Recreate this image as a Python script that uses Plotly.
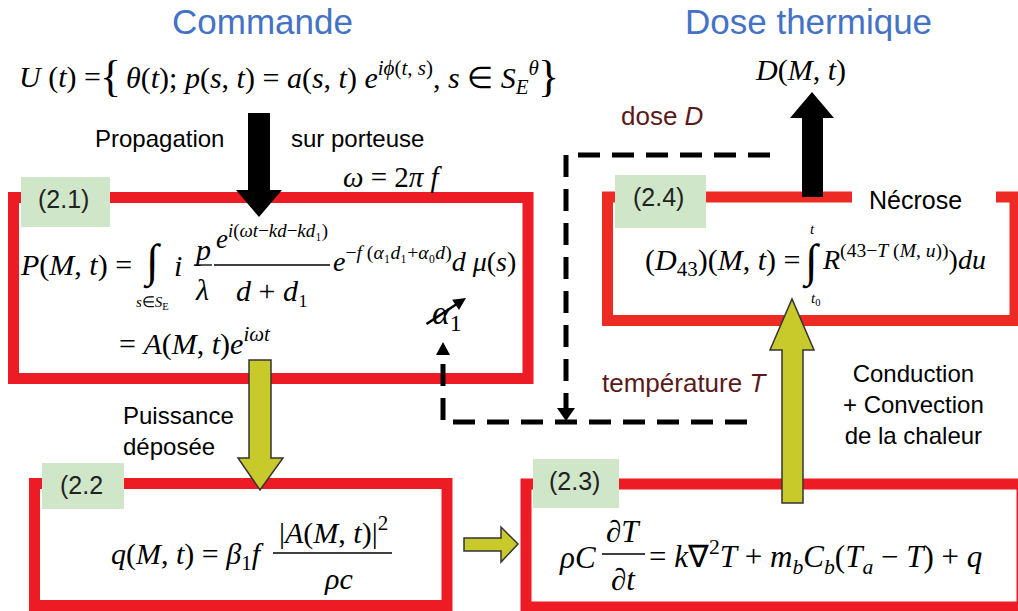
import plotly.graph_objects as go

W, H = 1018, 611
RED = "#ED1C24"
GREEN = "#CFE6C8"
OLIVE = "#C8CA2C"
BLUE = "#4472C4"
BROWN = "#5B1A1A"
SANS = "Liberation Sans"
SERIF = "Liberation Serif"

# content
titles = ["Commande", "Dose thermique"]
box_labels = ["(2.1)", "(2.2", "(2.3)", "(2.4)"]
flow_texts = ["Propagation", "sur porteuse", "Puissance<br>déposée",
              "Conduction<br>+ Convection<br>de la chaleur", "Nécrose"]
feedback_texts = ["dose <i>D</i>", "température <i>T</i>"]

fig = go.Figure()
shapes = []
ann = []


def txt(x, y, s, size=26, color="#000", family=SERIF, xanchor="center", align="center"):
    ann.append(dict(x=x, y=y, text=s, showarrow=False, xanchor=xanchor, yanchor="middle",
                    align=align, font=dict(size=size, color=color, family=family)))


def hline(x0, x1, y, w=1.3):
    shapes.append(dict(type="line", x0=x0, x1=x1, y0=y, y1=y, line=dict(color="#000", width=w)))


def poly(pts, fill, line="#000", lw=0):
    p = "M " + " L ".join(f"{a},{b}" for a, b in pts) + " Z"
    shapes.append(dict(type="path", path=p, fillcolor=fill,
                       line=dict(color=line, width=lw)))


# red boxes
for (x0, y0, x1, y1) in [(13.5, 197.5, 528, 378.5), (34.5, 483.5, 447, 605.5), (526, 484, 1022, 607)]:
    shapes.append(dict(type="rect", x0=x0, y0=y0, x1=x1, y1=y1,
                       line=dict(color=RED, width=11), fillcolor="rgba(0,0,0,0)"))
shapes.append(dict(type="path", path="M 852,197 L 607.5,197 L 607.5,320.5 L 1015,320.5 L 1015,197 L 996,197",
                   line=dict(color="#EE2A24", width=11)))

# green labels
for (x0, y0, x1, y1), lab in zip([(21, 177, 110, 227), (42, 463, 124, 509), (533, 459, 619, 508), (615, 175, 706, 228)], box_labels):
    shapes.append(dict(type="rect", x0=x0, y0=y0, x1=x1, y1=y1, line=dict(width=0), fillcolor=GREEN))
    txt((x0 + x1) / 2 - 2, y0 + 22, lab, size=25, color="#222", family=SANS)

# dashed feedback lines
dash = dict(color="#000", width=5, dash="22px,12px")
shapes.append(dict(type="path", path="M 770,155 L 566,155 L 566,410", line=dash))
shapes.append(dict(type="path", path="M 443,364 L 443,422 L 752,422", line=dash))
poly([(557, 408), (575, 408), (566, 421)], "#000")
poly([(436, 355), (450, 355), (443, 342)], "#000")

# black arrows
poly([(248, 113), (270, 113), (270, 190), (282, 190), (259, 217), (236, 190), (248, 190)], "#000")
poly([(802, 197), (823, 197), (823, 118), (834, 118), (812, 92), (790, 118), (802, 118)], "#000")

# olive arrows
poly([(249, 360), (271, 360), (271, 458), (283, 458), (260, 490), (238, 458), (249, 458)], OLIVE, "#333", 1.5)
poly([(464, 538), (501, 538), (501, 527), (518, 544), (501, 562), (501, 551), (464, 551)], OLIVE, "#333", 1.5)
poly([(782, 503), (803, 503), (803, 350), (814, 350), (792, 299), (770, 350), (782, 350)], OLIVE, "#333", 1.5)

# titles
txt(262, 21, titles[0], size=35, color=BLUE, family=SANS)
txt(808, 21, titles[1], size=35, color=BLUE, family=SANS)

# command formula
txt(17, 77, "<i>U</i> (<i>t</i>) =", size=30, xanchor="left")
txt(110, 76, "{", size=44)
txt(124, 77, "<i>θ</i>(<i>t</i>); <i>p</i>(<i>s</i>, <i>t</i>) = <i>a</i>(<i>s</i>, <i>t</i>) <i>e</i><sup><i>iϕ</i>(<i>t</i>, <i>s</i>)</sup>, <i>s</i> ∈ <i>S</i><sub><i>E</i></sub><sup><i>θ</i></sup>", size=30, xanchor="left")
txt(548, 76, "}", size=44)

txt(159, 138, flow_texts[0], size=24, family=SANS)
txt(357, 138, flow_texts[1], size=24, family=SANS)
txt(393, 177, "<i>ω</i> = 2<i>π f</i>", size=29)

# (2.1)
txt(18, 265, "<i>P</i>(<i>M</i>, <i>t</i>) =", size=30, xanchor="left")
txt(152, 262, "∫", size=46)
txt(152, 303, "<i>s</i>∈<i>S</i><sub>E</sub>", size=15)
txt(178, 265, "<i>i</i>", size=30)
txt(202, 249, "<i>p</i>", size=30)
hline(194, 212, 265)
txt(202, 289, "<i>λ</i>", size=30)
txt(272, 237, "<i>e</i><sup><i>i</i>(<i>ωt</i>−<i>kd</i>−<i>kd</i>₁)</sup>", size=27)
hline(214, 330, 265)
txt(272, 290, "<i>d</i> + <i>d</i>₁", size=30)
txt(331, 259, "<i>e</i><sup>−<i>f</i> (<i>α</i>₁<i>d</i>₁+<i>α</i>₀<i>d</i>)</sup><i>d μ</i>(<i>s</i>)", size=28, xanchor="left")
txt(117, 341, "= <i>A</i>(<i>M</i>, <i>t</i>)<i>e</i><sup><i>iωt</i></sup>", size=30, xanchor="left")
txt(447, 315, "<i>α</i><sub>1</sub>", size=34)
ann.append(dict(x=466, y=298, ax=425, ay=325, xref="x", yref="y", axref="x", ayref="y",
                showarrow=True, arrowhead=2, arrowsize=1, arrowwidth=2.5, arrowcolor="#000", text=""))

# (2.2)
txt(121, 431, flow_texts[2], size=24, family=SANS, xanchor="left", align="left")
txt(266, 556, "<i>q</i>(<i>M</i>, <i>t</i>) = <i>β</i><sub>1</sub><i>f</i>", size=30, xanchor="right")
txt(333, 530, "|<i>A</i>(<i>M</i>, <i>t</i>)|<sup>2</sup>", size=30)
hline(273, 392, 553)
txt(338, 578, "<i>ρc</i>", size=30)

# (2.3)
txt(577, 557, "<i>ρC</i>", size=31)
txt(623, 531, "∂<i>T</i>", size=31)
hline(602, 645, 554)
txt(623, 579, "∂<i>t</i>", size=31)
txt(647, 557, "= <i>k</i>∇<sup>2</sup><i>T</i> + <i>m</i><sub><i>b</i></sub><i>C</i><sub><i>b</i></sub>(<i>T</i><sub><i>a</i></sub> − <i>T</i>) + <i>q</i>", size=31, xanchor="left")

# (2.4)
txt(915, 200, flow_texts[4], size=25, family=SANS)
txt(802, 262, "(<i>D</i><sub>43</sub>)(<i>M</i>, <i>t</i>) =", size=30, xanchor="right")
txt(811, 262, "∫", size=46)
txt(812, 229, "<i>t</i>", size=15)
txt(815, 299, "<i>t</i><sub>0</sub>", size=15)
txt(820, 257, "<i>R</i><sup>(43−<i>T</i> (<i>M</i>, <i>u</i>))</sup>)<i>du</i>", size=28, xanchor="left")

txt(800, 70, "<i>D</i>(<i>M</i>, <i>t</i>)", size=30)
txt(662, 116, feedback_texts[0], size=26, color=BROWN, family=SANS)
txt(684, 383, feedback_texts[1], size=26, color=BROWN, family=SANS)
txt(913, 404, flow_texts[3], size=24, family=SANS)

fig.update_layout(
    width=W, height=H, margin=dict(l=0, r=0, t=0, b=0),
    paper_bgcolor="white", plot_bgcolor="white", showlegend=False,
    xaxis=dict(range=[0, W], visible=False, fixedrange=True),
    yaxis=dict(range=[H, 0], visible=False, fixedrange=True),
    shapes=shapes, annotations=ann,
)
fig.write_html("out.html", config={"displayModeBar": False},
               post_script="document.body.style.margin='0';document.body.style.overflow='hidden';")
